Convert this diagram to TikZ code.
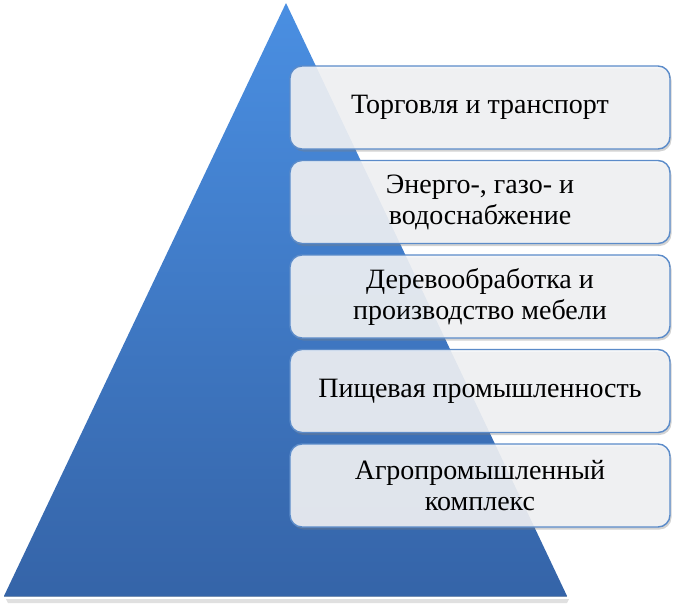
\documentclass[tikz,border=0pt]{standalone}
\usepackage{fontspec}
\setmainfont{Liberation Serif}
\usetikzlibrary{shadows,calc}
\definecolor{boxborder}{HTML}{5B8BC9}
\definecolor{boxfill}{HTML}{F4F5F7}
\definecolor{tritop}{HTML}{4A8FE2}
\definecolor{tribot}{HTML}{3564A8}
\tikzset{
  layerbox/.style={draw=boxborder, line width=1.4pt, rounded corners=12pt,
    fill=boxfill, fill opacity=0.88, text opacity=1,
    minimum width=380pt, minimum height=83pt, align=center,
    font=\fontsize{28}{31}\selectfont,
    drop shadow={shadow xshift=1.5pt, shadow yshift=-2.5pt, opacity=0.35, fill=gray}},
  pyramid/.style={top color=tritop, bottom color=tribot, draw=none}
}
\begin{document}
\begin{tikzpicture}[x=1pt,y=-1pt]
\useasboundingbox (0,0) rectangle (680,608);
\fill[gray!40, opacity=0.6] (6,599) -- (569,599) -- (567,603) -- (8,603) -- cycle;
\path[pyramid] (286,3) coordinate (apex) -- (567,596) coordinate (br) -- (4,596) coordinate (bl) -- cycle;
\draw[tribot!80!black, line width=1pt, opacity=0.6] (bl) -- (br);
\node[layerbox] (b1) at (480,107.5) {Торговля и транспорт};
\node[layerbox] (b2) at (480,202) {Энерго-, газо- и\\водоснабжение};
\node[layerbox] (b3) at (480,296.5) {Деревообработка и\\производство мебели};
\node[layerbox] (b4) at (480,391) {Пищевая промышленность};
\node[layerbox] (b5) at (480,485.5) {Агропромышленный\\комплекс};
\end{tikzpicture}
\end{document}
